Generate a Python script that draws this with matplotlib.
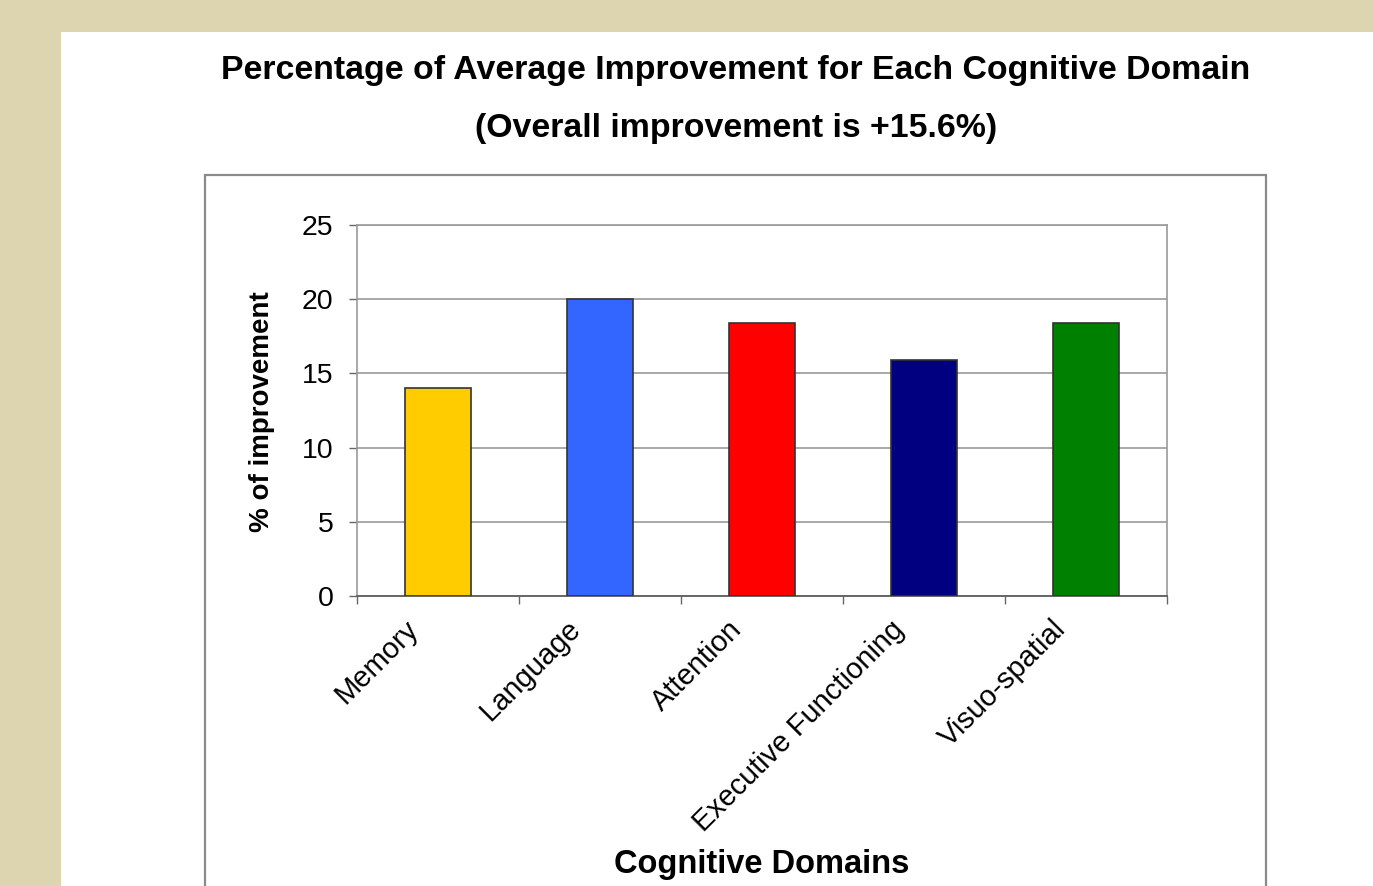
import matplotlib.pyplot as plt
import matplotlib.transforms as mtransforms
from matplotlib.patches import Rectangle
import numpy as np

# ---------------------------
# Data
# ---------------------------
domains = ['Memory', 'Language', 'Attention', 'Executive Functioning', 'Visuo-spatial']
improvement = [14.0, 20.0, 18.4, 15.9, 18.4]
bar_colors = ['#FFCC00', '#3366FF', '#FF0000', '#000080', '#008000']
y_ticks = [0, 5, 10, 15, 20, 25]

title_1 = 'Percentage of Average Improvement for Each Cognitive Domain'
title_2 = '(Overall improvement is +15.6%)'

plt.rcParams['font.family'] = ['Liberation Sans', 'DejaVu Sans']

W, H = 1373, 886
fig = plt.figure(figsize=(W / 100, H / 100), dpi=100, facecolor='#DCD5B0')

# white slide panel and chart frame (pixel coords -> figure fraction)
def fx(px):
    return px / W

def fy(py):
    return 1 - py / H

fig.patches.append(Rectangle((fx(61), 0), 1 - fx(61), fy(32), transform=fig.transFigure,
                             facecolor='white', edgecolor='none', zorder=0))
fig.patches.append(Rectangle((fx(205), -0.05), fx(1266) - fx(205), fy(175) + 0.05,
                             transform=fig.transFigure, facecolor='white',
                             edgecolor='#8a8a8a', lw=1.6, zorder=1))

# titles
fig.text(fx(736), fy(71), title_1, ha='center', va='center', fontsize=24.4, fontweight='bold')
fig.text(fx(736), fy(129), title_2, ha='center', va='center', fontsize=24.4, fontweight='bold')

# ---------------------------
# Axes
# ---------------------------
ax = fig.add_axes([fx(357), fy(596), fx(1167) - fx(357), fy(225) - fy(596)])
ax.set_zorder(5)
ax.set_facecolor('white')
x = np.arange(len(domains))
ax.bar(x, improvement, width=0.41, color=bar_colors, edgecolor='#333333', lw=1.2, zorder=3)

ax.set_xlim(-0.5, len(domains) - 0.5)
ax.set_ylim(0, 25)
ax.set_yticks(y_ticks)
ax.yaxis.grid(True, color='#9a9a9a', lw=1.2, zorder=0)
ax.tick_params(axis='y', direction='out', length=6, width=1, color='#666666',
               labelsize=20.5, pad=11)

# category boundaries as minor ticks, labels on major ticks
ax.set_xticks(np.arange(len(domains) + 1) - 0.5, minor=True)
ax.set_xticks(x)
ax.set_xticklabels(domains, rotation=45, ha='right', va='top', rotation_mode='anchor')
ax.tick_params(axis='x', which='major', length=0, labelsize=21, pad=0)
ax.tick_params(axis='x', which='minor', direction='out', length=6, width=1, color='#666666')
offset = mtransforms.ScaledTranslation(-34 / 100, -19 / 100, fig.dpi_scale_trans)
for lab in ax.get_xticklabels():
    lab.set_transform(lab.get_transform() + offset)

for side in ['left', 'right', 'top']:
    ax.spines[side].set_color('#9a9a9a')
    ax.spines[side].set_linewidth(1.2)
ax.spines['bottom'].set_color('#666666')
ax.spines['bottom'].set_linewidth(1.4)

fig.text(fx(262), fy(412), '% of improvement', rotation=90, ha='center', va='center',
         fontsize=20, fontweight='bold')
fig.text(fx(762), fy(864), 'Cognitive Domains', ha='center', va='center',
         fontsize=23.5, fontweight='bold')

fig.savefig('out.png', dpi=100, facecolor=fig.get_facecolor())
